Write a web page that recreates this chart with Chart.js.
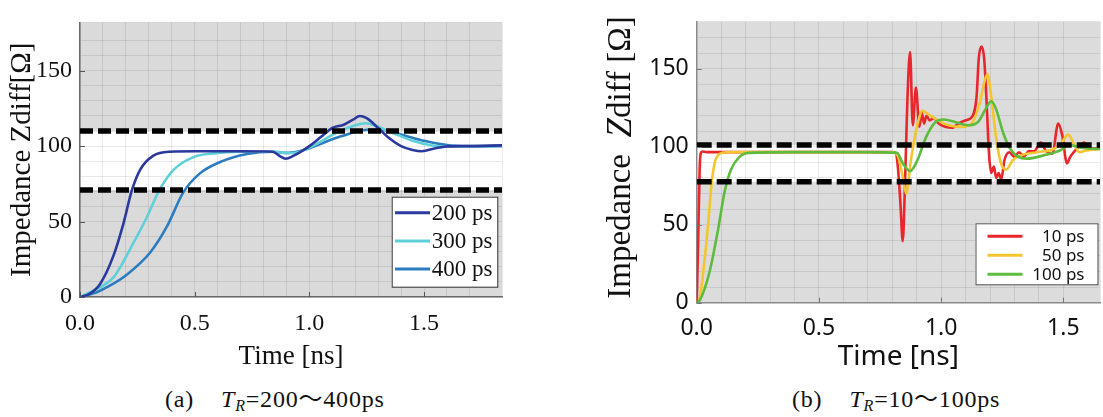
<!DOCTYPE html>
<html>
<head>
<meta charset="utf-8">
<script src="https://cdn.jsdelivr.net/npm/chart.js@4.4.1/dist/chart.umd.min.js"></script>
<style>
  html, body { margin: 0; padding: 0; background: #fff; overflow: hidden; }
  body { width: 1103px; height: 417px; position: relative; }
  canvas { position: absolute; top: 0; }
  #chartA { left: 0; }
  #chartB { left: 580px; }
  .cap { position: absolute; top: 386px; font: 24px/26px "Liberation Serif", "Noto Sans CJK JP", serif;
         letter-spacing: 0.8px; color: #111; white-space: nowrap; }
  .cap i { font-style: italic; }
  .cap sub { font-size: 16px; vertical-align: -4px; line-height: 0; }
  .gap { display: inline-block; width: 27px; }
</style>
</head>
<body>
<canvas id="chartA" width="520" height="380"></canvas>
<canvas id="chartB" width="532" height="380"></canvas>
<div class="cap" style="left:165px">(a)<span class="gap"></span><i>T</i><sub><i>R</i></sub>=200〜400ps</div>
<div class="cap" style="left:792px">(b)<span class="gap"></span><i>T</i><sub><i>R</i></sub>=10〜100ps</div>
<script>
// (a) rise times 200 / 300 / 400 ps  — time [ns], impedance [ohm]
const t200 = [0, 0.04, 0.087, 0.146, 0.189, 0.226, 0.262, 0.32, 0.393, 0.5, 0.7, 0.84, 0.87, 0.897, 0.93, 0.96, 1.0, 1.05, 1.1, 1.15, 1.19, 1.22, 1.25, 1.3, 1.35, 1.4, 1.45, 1.49, 1.55, 1.6, 1.7, 1.84];
const z200 = [0, 2, 8.5, 27.4, 48.5, 70.6, 84.3, 93.7, 96.3, 96.6, 96.6, 96.3, 93.5, 91.6, 93.5, 96, 100, 106, 112, 114.2, 117.5, 120, 118.5, 112, 105, 100, 97.5, 96.6, 98.6, 99.8, 100, 100.5];
const t300 = [0, 0.058, 0.1, 0.146, 0.18, 0.218, 0.291, 0.349, 0.408, 0.495, 0.582, 0.7, 0.85, 0.9, 0.95, 1.0, 1.05, 1.1, 1.15, 1.2, 1.245, 1.29, 1.35, 1.4, 1.45, 1.5, 1.57, 1.65, 1.84];
const z300 = [0, 4.2, 7.5, 13, 21, 31.6, 52.7, 71.6, 84.3, 92.7, 95.2, 96.3, 96.3, 95.4, 96, 99, 103, 107.5, 111, 113.8, 115.2, 113.5, 109.5, 106.5, 103.5, 101.5, 99.8, 99.7, 100.3];
const t400 = [0, 0.073, 0.13, 0.204, 0.306, 0.378, 0.451, 0.524, 0.611, 0.728, 0.84, 0.9, 0.95, 1.0, 1.05, 1.1, 1.15, 1.22, 1.29, 1.33, 1.383, 1.45, 1.5, 1.6, 1.7, 1.84];
const z400 = [0, 3.2, 7.5, 14.8, 29.5, 46.4, 69.5, 82.1, 89.5, 94.8, 96.3, 95.5, 96.5, 98.5, 101.5, 104.5, 107, 110.2, 111, 110.5, 108.5, 105.5, 103.5, 100.7, 100, 100];

// (b) rise times 10 / 50 / 100 ps
const t10 = [0, 0.006, 0.012, 0.016, 0.024, 0.04, 0.3, 0.6, 0.8, 0.814, 0.823, 0.833, 0.843, 0.852, 0.862, 0.873, 0.884, 0.897, 0.911, 0.921, 0.93, 0.94, 0.953, 0.97, 0.99, 1.017, 1.044, 1.071, 1.098, 1.125, 1.145, 1.154, 1.165, 1.176, 1.185, 1.196, 1.205, 1.216, 1.225, 1.235, 1.246, 1.259, 1.279, 1.299, 1.319, 1.339, 1.359, 1.38, 1.408, 1.428, 1.455, 1.479, 1.495, 1.515, 1.528, 1.548, 1.568, 1.586, 1.602, 1.625, 1.65];
const z10 = [0, 40, 85, 95.4, 96.9, 96.5, 96.5, 96.5, 96.5, 96, 87, 65, 39.4, 75, 130, 160.6, 113.7, 137.8, 112.7, 121.9, 114.8, 119.8, 116.8, 118.3, 114.8, 112.7, 112.1, 114.8, 116.8, 118.8, 132, 156.5, 164.2, 156.5, 132, 95.4, 83.2, 87.3, 80, 83, 79, 91.3, 96.4, 93.4, 96.4, 93.8, 97.1, 97, 102.6, 97.5, 95.4, 114.8, 107.7, 89.3, 93.4, 97.5, 100.5, 102.6, 98.5, 99, 99];
const t50 = [0, 0.015, 0.027, 0.047, 0.06, 0.073, 0.094, 0.12, 0.3, 0.6, 0.8, 0.823, 0.843, 0.857, 0.877, 0.9, 0.924, 0.95, 0.977, 1.031, 1.084, 1.125, 1.158, 1.178, 1.189, 1.205, 1.225, 1.245, 1.266, 1.293, 1.326, 1.393, 1.46, 1.493, 1.52, 1.547, 1.567, 1.593, 1.65];
const z50 = [0, 5, 20, 50.5, 75, 89.2, 95.4, 96.4, 96.5, 96.5, 96.4, 94, 80.9, 69.9, 92, 112, 122.9, 120.5, 117.8, 113.7, 112.7, 114.8, 128, 142.2, 146.3, 132, 105.6, 89.3, 85.3, 91.3, 94.4, 96.4, 98.5, 102.6, 107.7, 100.6, 96.4, 97.5, 98.5];
const t100 = [0, 0.013, 0.053, 0.087, 0.114, 0.14, 0.174, 0.214, 0.4, 0.7, 0.82, 0.843, 0.873, 0.903, 0.937, 0.977, 1.01, 1.057, 1.11, 1.151, 1.185, 1.205, 1.225, 1.252, 1.279, 1.306, 1.352, 1.419, 1.486, 1.526, 1.566, 1.65];
const z100 = [0, 1.6, 20, 46.5, 70.9, 85.2, 93.3, 96, 96.5, 96.5, 96, 89.3, 84.3, 91.3, 105.6, 115.8, 117.4, 115.8, 113.7, 115.8, 125, 129.1, 124, 109.7, 99.5, 94.4, 92.3, 94.4, 97.5, 101.1, 99.5, 98.5];

// tolerance limits (dashed lines) [low, high]
const limitsA = [71, 110];
const limitsB = [77.5, 101];

// labelled ticks
const xMajor = [0, 0.5, 1.0, 1.5];
const xTickLabels = ['0.0', '0.5', '1.0', '1.5'];
const yMajor = [0, 50, 100, 150];
const yTickLabels = ['0', '50', '100', '150'];

const SERIF = '"Liberation Serif", serif';
const SANS = '"Noto Sans", "DejaVu Sans", sans-serif';

function labelFor(v, majors, labels) {
  const i = majors.findIndex(m => Math.abs(m - v) < 1e-6);
  return i < 0 ? '' : labels[i];
}

function curve(label, ts, zs, color, order) {
  return {
    label, order,
    data: ts.map((t, i) => ({ x: t, y: zs[i] })),
    borderColor: color, borderWidth: 2.6, pointRadius: 0,
    cubicInterpolationMode: 'monotone'
  };
}

function limitLine(v, xmax, dash) {
  return {
    data: [{ x: 0, y: v }, { x: xmax, y: v }],
    borderColor: '#000', borderWidth: 5.5, borderDash: dash,
    pointRadius: 0, order: 0
  };
}

// grey plot background with the white in-spec band
function bandPlugin(lo, hi, grey) {
  return {
    id: 'band',
    beforeDraw(chart) {
      const { ctx, chartArea: a, scales: { y } } = chart;
      ctx.save();
      ctx.fillStyle = grey;
      ctx.fillRect(a.left, a.top, a.width, a.height);
      const top = y.getPixelForValue(hi), bot = y.getPixelForValue(lo);
      ctx.fillStyle = '#fff';
      ctx.fillRect(a.left, top, a.width, bot - top);
      ctx.restore();
    }
  };
}

// short inward tick marks on the labelled ticks
function tickPlugin(color) {
  return {
    id: 'tickMarks',
    afterDatasetsDraw(chart) {
      const { ctx, chartArea: a, scales: { x, y } } = chart;
      ctx.save();
      ctx.strokeStyle = color;
      ctx.lineWidth = 1;
      ctx.beginPath();
      xMajor.forEach(v => {
        const px = Math.round(x.getPixelForValue(v)) + 0.5;
        ctx.moveTo(px, a.bottom); ctx.lineTo(px, a.bottom - 5);
      });
      yMajor.forEach(v => {
        const py = Math.round(y.getPixelForValue(v)) + 0.5;
        ctx.moveTo(a.left, py); ctx.lineTo(a.left + 5, py);
      });
      ctx.stroke();
      ctx.restore();
    }
  };
}

// framed legend inside the plot, lower right
function legendPlugin(o) {
  return {
    id: 'boxLegend',
    afterDraw(chart) {
      const { ctx, chartArea: a } = chart;
      const left = a.right - o.right - o.width, top = o.top;
      ctx.save();
      ctx.fillStyle = '#fff';
      ctx.fillRect(left, top, o.width, o.height);
      ctx.strokeStyle = o.frame;
      ctx.lineWidth = 1;
      ctx.strokeRect(left + 0.5, top + 0.5, o.width, o.height);
      ctx.font = o.font;
      ctx.textBaseline = 'middle';
      ctx.textAlign = o.align;
      chart.data.datasets.filter(d => d.label).forEach((d, i) => {
        const yy = top + o.first + i * o.step;
        ctx.strokeStyle = d.borderColor;
        ctx.lineWidth = 3;
        ctx.beginPath();
        ctx.moveTo(left + o.lineFrom, yy);
        ctx.lineTo(left + o.lineTo, yy);
        ctx.stroke();
        ctx.fillStyle = '#111';
        ctx.fillText(d.label, left + o.textX, yy + 1);
      });
      ctx.restore();
    }
  };
}

// y title with an italic Z
function mixedTitlePlugin(x, cy, size, parts) {
  return {
    id: 'mixedTitle',
    afterDraw(chart) {
      const { ctx } = chart;
      const fontOf = p => (p.italic ? 'italic ' : '') + (p.size || size) + 'px ' + SERIF;
      ctx.save();
      ctx.translate(x, cy);
      ctx.rotate(-Math.PI / 2);
      let total = 0;
      parts.forEach(p => { ctx.font = fontOf(p); total += ctx.measureText(p.text).width; });
      let px = -total / 2;
      ctx.textBaseline = 'middle';
      ctx.fillStyle = '#111';
      parts.forEach(p => {
        ctx.font = fontOf(p);
        ctx.fillText(p.text, px, 0);
        px += ctx.measureText(p.text).width;
      });
      ctx.restore();
    }
  };
}

function scalesFor(o) {
  return {
    x: {
      type: 'linear', min: 0, max: o.xmax,
      ticks: {
        stepSize: 0.1, autoSkip: false, maxRotation: 0, padding: 12,
        color: '#111', font: { family: o.tickFamily, size: o.tickSize },
        callback: v => labelFor(v, xMajor, xTickLabels)
      },
      grid: { color: 'rgba(0,0,0,0.085)', drawTicks: false },
      border: { color: o.axisColor, width: 1.5 },
      title: o.xTitle,
      afterFit: s => { s.height = o.xHeight; }
    },
    y: {
      type: 'linear', min: 0, max: o.ymax,
      ticks: {
        stepSize: 10, autoSkip: false, padding: 8,
        color: '#111', font: { family: o.tickFamily, size: o.tickSize },
        callback: v => labelFor(v, yMajor, yTickLabels)
      },
      grid: { color: 'rgba(0,0,0,0.085)', drawTicks: false },
      border: { color: o.axisColor, width: 1.5 },
      title: o.yTitle,
      afterFit: s => { s.width = o.yWidth; }
    }
  };
}

const common = {
  responsive: false, animation: false, devicePixelRatio: 1,
  plugins: { legend: { display: false }, tooltip: { enabled: false } },
  elements: { line: { tension: 0 } }
};

// (a)
const xmaxA = 1.84;
new Chart(document.getElementById('chartA'), {
  type: 'line',
  data: {
    datasets: [
      curve('200 ps', t200, z200, '#2b389c', 1),
      curve('300 ps', t300, z300, '#5fd0d9', 2),
      curve('400 ps', t400, z400, '#2c7cc0', 3),
      limitLine(limitsA[1], xmaxA, [13, 5]),
      limitLine(limitsA[0], xmaxA, [13, 5])
    ]
  },
  options: Object.assign({}, common, {
    layout: { padding: { top: 9, right: 18, left: 0, bottom: 0 } },
    scales: scalesFor({
      xmax: xmaxA, ymax: 182, tickFamily: SERIF, tickSize: 24, axisColor: '#6a6a6a',
      xHeight: 83, yWidth: 80,
      xTitle: { display: true, text: 'Time [ns]', color: '#111',
                font: { family: SERIF, size: 27 }, padding: { top: 0, bottom: 7 } },
      yTitle: { display: true, text: 'Impedance Zdiff[Ω]', color: '#111',
                font: { family: SERIF, size: 29 }, padding: { top: 5, bottom: 0 } }
    })
  }),
  plugins: [
    bandPlugin(limitsA[0], limitsA[1], '#dadada'),
    tickPlugin('#555'),
    legendPlugin({ right: 4.7, width: 105.6, top: 196.7, height: 90, first: 16, step: 28.2,
                   lineFrom: 3.3, lineTo: 38.3, textX: 40, align: 'left',
                   font: '23px ' + SERIF, frame: '#333' })
  ]
});

// (b)
const xmaxB = 1.65;
new Chart(document.getElementById('chartB'), {
  type: 'line',
  data: {
    datasets: [
      curve('10 ps', t10, z10, '#e8262b', 3),
      curve('50 ps', t50, z50, '#f3c52e', 2),
      curve('100 ps', t100, z100, '#5dbb3e', 1),
      limitLine(limitsB[1], xmaxB, [15, 5]),
      limitLine(limitsB[0], xmaxB, [15, 5])
    ]
  },
  options: Object.assign({}, common, {
    layout: { padding: { top: 8, right: 4, left: 0, bottom: 0 } },
    scales: scalesFor({
      xmax: xmaxB, ymax: 180, tickFamily: SANS, tickSize: 23, axisColor: '#8a8a8a',
      xHeight: 77.3, yWidth: 116.7,
      xTitle: { display: true, text: 'Time [ns]', color: '#111',
                font: { family: SANS, size: 28 }, padding: { top: 0, bottom: 6.5 } },
      yTitle: { display: false }
    })
  }),
  plugins: [
    bandPlugin(limitsB[0], limitsB[1], '#dcdcdc'),
    tickPlugin('#777'),
    legendPlugin({ right: 2.5, width: 122, top: 223.3, height: 61, first: 13, step: 19,
                   lineFrom: 12, lineTo: 47, textX: 109, align: 'right',
                   font: '17px ' + SANS, frame: '#555' }),
    mixedTitlePlugin(41.7, 157.5, 33, [
      { text: 'Impedance  ' }, { text: 'Z', italic: true, size: 35 }, { text: 'diff [Ω]' }
    ])
  ]
});
</script>
</body>
</html>
